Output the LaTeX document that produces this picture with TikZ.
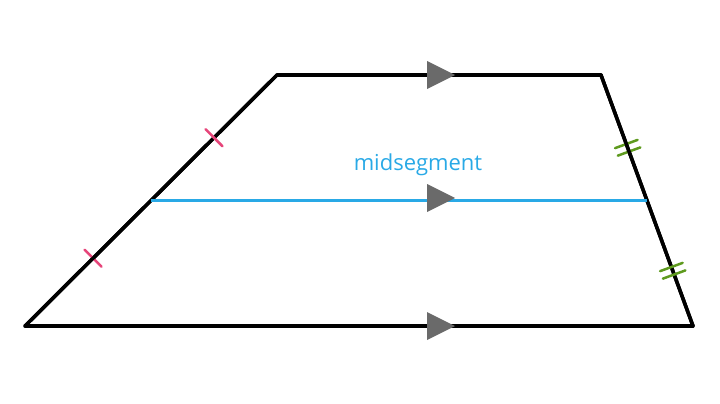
\documentclass[tikz,border=0pt]{standalone}
\usepackage{fontspec}
\setsansfont{Open Sans}
\usetikzlibrary{decorations.markings}
\definecolor{midblue}{HTML}{29A9E6}
\definecolor{tickpink}{HTML}{E6457A}
\definecolor{tickgreen}{HTML}{5E9A1E}
\definecolor{arrgray}{HTML}{6A6A6A}
\tikzset{
  side/.style = {line width=3.5pt, line cap=round, line join=round},
  onetick/.style = {postaction=decorate, decoration={markings,
    mark=at position #1 with {\draw[tickpink, line width=2.5pt] (0,-12pt) -- (0,12pt);}}},
  twotick/.style = {postaction=decorate, decoration={markings,
    mark=at position #1 with {\draw[tickgreen, line width=2.5pt] (-4pt,-12pt) -- (-4pt,12pt) (4pt,-12pt) -- (4pt,12pt);}}}
}
\newcommand{\partri}[1]{\fill[arrgray] ($(#1)+(-13,-14)$) -- ($(#1)+(15,0)$) -- ($(#1)+(-13,14)$) -- cycle;}
\usetikzlibrary{calc}
\begin{document}
\begin{tikzpicture}[x=1pt, y=-1pt]
  \useasboundingbox (0,0) rectangle (720,404);
  % vertices
  \coordinate (bl) at (25,326);
  \coordinate (br) at (693,326);
  \coordinate (tr) at (601,75);
  \coordinate (tl) at (277,75);
  \coordinate (ml) at ($(bl)!0.5!(tl)$);
  \coordinate (mr) at ($(br)!0.5!(tr)$);
  % sides
  \draw[side, onetick=0.27] (bl) -- (tl);
  \draw[side, onetick=0.75] (bl) -- (tl);
  \draw[side, twotick=0.29] (tr) -- (br);
  \draw[side, twotick=0.78] (tr) -- (br);
  \draw[side] (tl) -- (tr);
  \draw[side] (bl) -- (br);
  \draw[midblue, line width=2.5pt] (ml) -- (mr);
  \node (lbl) at (418,165) [midblue, font=\sffamily\fontsize{22}{26}\selectfont] {midsegment};
  % parallel marks
  \partri{440,75}
  \partri{440,198}
  \partri{440,326}
\end{tikzpicture}
\end{document}
